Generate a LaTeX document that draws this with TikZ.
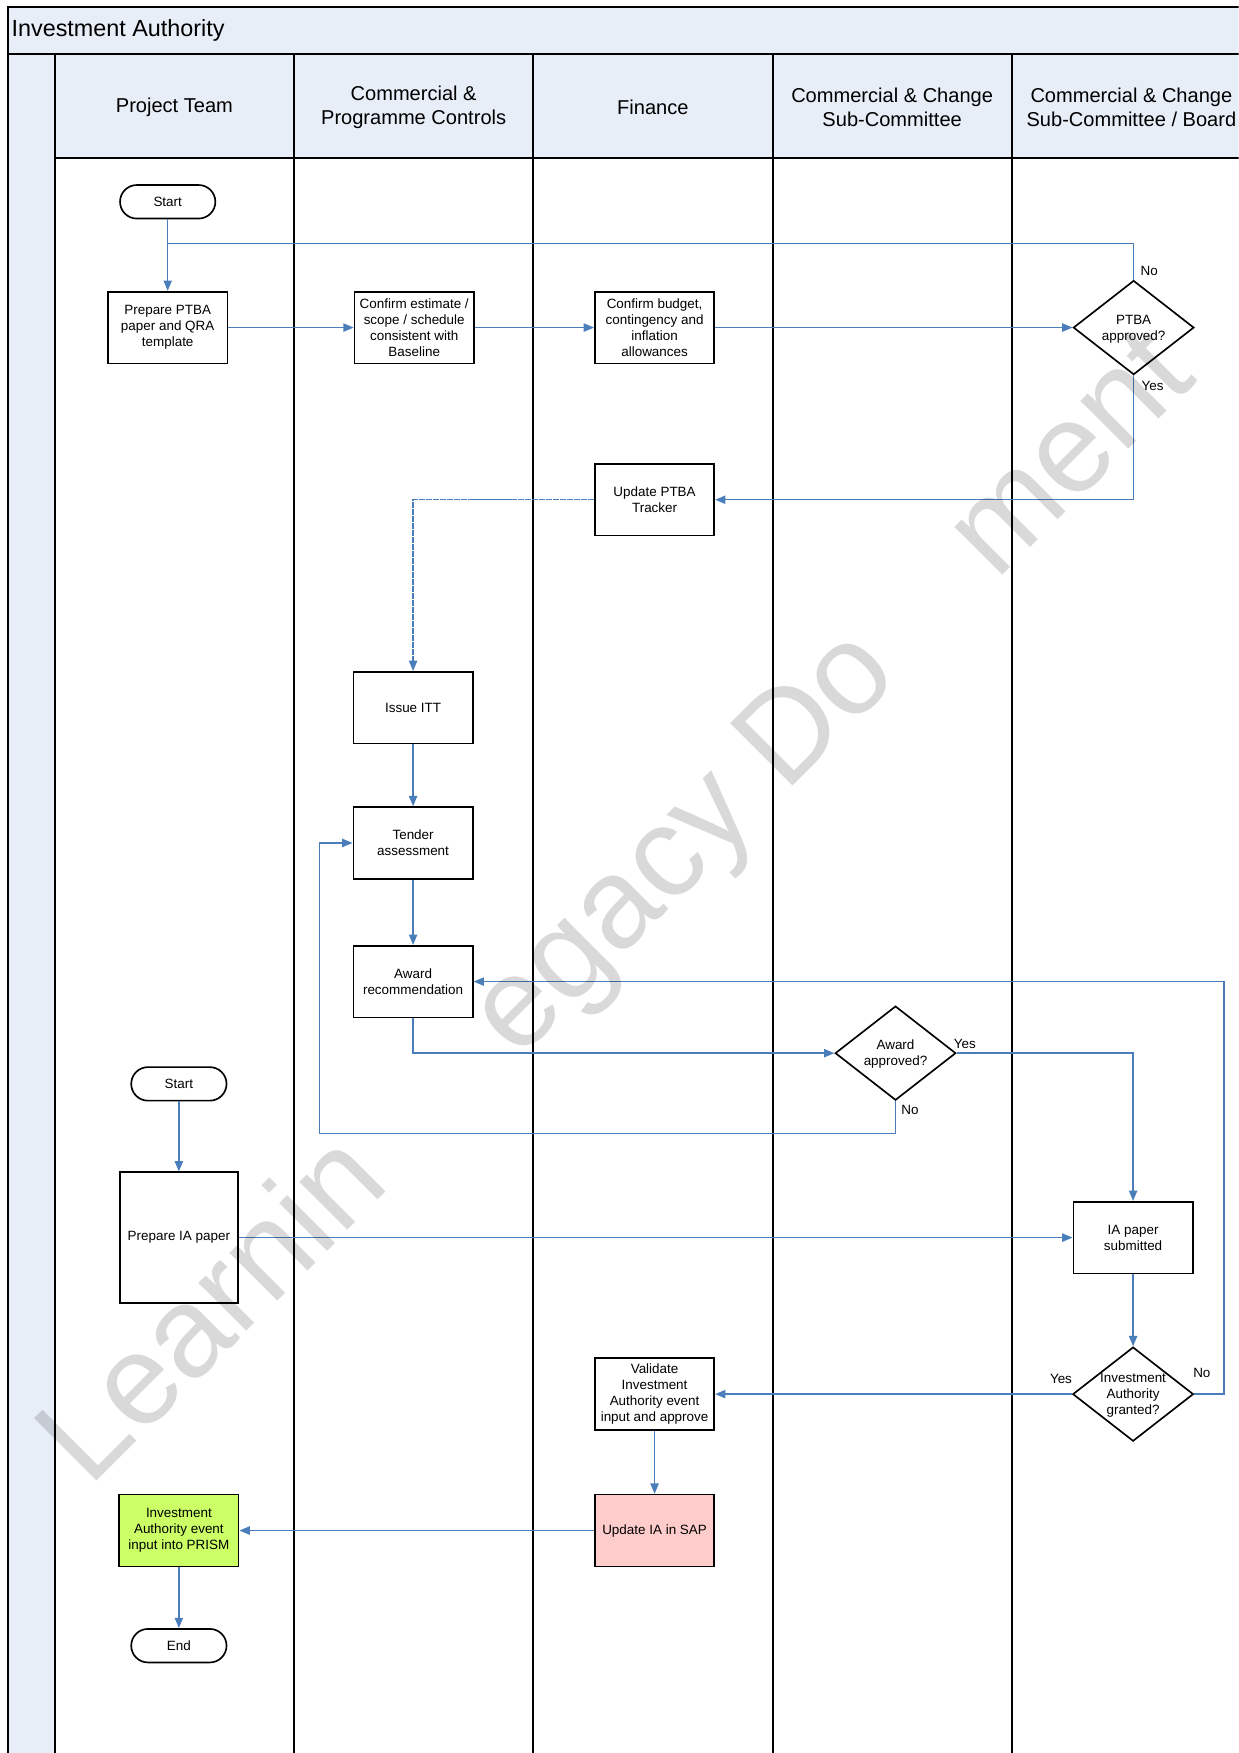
\documentclass[tikz,border=0pt]{standalone}
\usepackage{fontspec}
\setmainfont{Liberation Sans}
\usetikzlibrary{shapes.geometric,arrows.meta}
\definecolor{flowblue}{RGB}{74,126,187}
\definecolor{lanefill}{RGB}{232,238,248}
\definecolor{prismgreen}{RGB}{204,255,102}
\definecolor{sappink}{RGB}{255,204,204}
\tikzset{
  box/.style={draw, line width=0.8pt, fill=white, minimum width=20.3mm, minimum height=12.2mm,
    align=center, inner sep=1pt, font=\fontsize{6.5}{7.7}\selectfont},
  term/.style={box, rounded corners=2.85mm, minimum width=16.2mm, minimum height=5.7mm},
  dec/.style={draw, diamond, line width=0.8pt, fill=white, minimum width=20.5mm,
    minimum height=16mm, inner sep=0pt},
  dectext/.style={align=center, inner sep=0pt, font=\fontsize{6.5}{7.7}\selectfont},
  lbl/.style={inner sep=0pt, font=\fontsize{6.5}{7.7}\selectfont},
  hdr/.style={align=center, font=\fontsize{9.7}{11.3}\selectfont},
  flow/.style={draw=flowblue, line width=0.7pt, ->},
  frame/.style={line width=1pt},
  wmark/.style={text=black, text opacity=0.15, inner sep=0pt, font=\fontsize{62}{62}\selectfont}
}
\begin{document}
\begin{tikzpicture}[x=0.19mm, y=-0.19mm, >={Triangle[length=5pt,width=4pt]}]
    \useasboundingbox (0,0) rectangle (1108,1568);
    \clip (0,0) rectangle (1108,1568);
    \fill[white] (0,0) rectangle (1108,1568);

    % Draw pool and lanes
    \fill[lanefill] (7,6) rectangle (1130,48);
    \fill[lanefill] (49,48) rectangle (1130,141);
    \fill[lanefill] (7,48) rectangle (49,1590);
    \draw[frame] (7,1590) -- (7,6) -- (1130,6);
    \draw[frame] (7,48) -- (1130,48);
    \draw[frame] (49,141) -- (1130,141);
    \foreach \x in {49,263,477,691,905}
        \draw[frame] (\x,48) -- (\x,1590);

    % Titles
    \node[anchor=west, inner sep=0pt, font=\fontsize{11.3}{13}\selectfont] (title) at (10,27.5) {Investment Authority};
    \node[hdr] (hteam) at (156,96) {Project Team};
    \node[hdr] (hcpc) at (370,96) {Commercial \&\\Programme Controls};
    \node[hdr] (hfin) at (584,96) {Finance};
    \node[hdr] (hsub) at (798,96) {Commercial \& Change\\Sub-Committee};
    \node[hdr] (hboard) at (1012,96) {Commercial \& Change\\Sub-Committee / Board};

    % PTBA steps
    \node[term] (start1) at (150,180.5) {Start};
    \node[box] (ptba) at (150,293) {Prepare PTBA\\paper and QRA\\template};
    \node[box] (conf) at (370.5,293) {Confirm estimate /\\scope / schedule\\consistent with\\Baseline};
    \node[box] (budget) at (585.5,293) {Confirm budget,\\contingency and\\inflation\\allowances};
    \node[dec, label={[dectext, yshift=-0.6pt]center:{PTBA\\approved?}}] (ptbaq) at (1014,293) {};
    \node[box] (tracker) at (585.5,447) {Update PTBA\\Tracker};

    % Tender steps
    \node[box] (itt) at (369.5,633) {Issue ITT};
    \node[box] (tender) at (369.5,754) {Tender\\assessment};
    \node[box] (award) at (369.5,878) {Award\\recommendation};
    \node[dec, label={[dectext, yshift=-0.6pt]center:{Award\\approved?}}] (awardq) at (801,942) {};

    % IA steps
    \node[term] (start2) at (160,969.5) {Start};
    \node[box, minimum width=20.1mm, minimum height=22.2mm] (prepia) at (160,1107) {Prepare IA paper};
    \node[box] (ias) at (1013.5,1107) {IA paper\\submitted};
    \node[dec, label={[dectext, yshift=-0.6pt]center:{Investment\\Authority\\granted?}}] (iaq) at (1013.5,1247) {};
    \node[box] (validate) at (585.5,1247) {Validate\\Investment\\Authority event\\input and approve};
    \node[box, fill=sappink] (sap) at (585.5,1369) {Update IA in SAP};
    \node[box, fill=prismgreen] (prism) at (160,1369) {Investment\\Authority event\\input into PRISM};
    \node[term] (endn) at (160,1472) {End};

    % Connectors
    \coordinate (nojoin) at (150,218);
    \coordinate (loopa) at (286,1014);
    \coordinate (loopb) at (1095,1247);
    \draw[flow] (start1) -- (ptba);
    \draw[flow] (ptba) -- (conf);
    \draw[flow] (conf) -- (budget);
    \draw[flow] (budget) -- (ptbaq);
    \draw[flow, -] (ptbaq.north) |- (nojoin);
    \draw[flow] (ptbaq.south) |- (tracker.east);
    \draw[flow, dash pattern=on 3pt off 0.4pt] (tracker.west) -| (itt.north);
    \draw[flow] (itt) -- (tender);
    \draw[flow] (tender) -- (award);
    \draw[flow] (award.south) |- (awardq.west);
    \draw[flow] (awardq.south) |- (loopa) |- (tender.west);
    \draw[flow] (awardq.east) -| (ias.north);
    \draw[flow] (start2) -- (prepia);
    \draw[flow] (prepia.east) -- (ias.west);
    \draw[flow] (ias) -- (iaq);
    \draw[flow] (iaq.west) -- (validate.east);
    \draw[flow] (iaq.east) -- (loopb) |- (award.east);
    \draw[flow] (validate) -- (sap);
    \draw[flow] (sap) -- (prism);
    \draw[flow] (prism) -- (endn);

    % Yes / No labels
    \node[lbl] (no1) at (1028,242) {No};
    \node[lbl] (yes1) at (1031,345) {Yes};
    \node[lbl] (yes2) at (863,934) {Yes};
    \node[lbl] (no2) at (814,993) {No};
    \node[lbl] (yes3) at (949,1233) {Yes};
    \node[lbl] (no3) at (1075,1228) {No};

    % Watermark
    \node[wmark, anchor=base west, rotate=45] (wm) at (80,1332) {Learnin\phantom{g L}egacy Do\phantom{cu}ment};

\end{tikzpicture}
\end{document}
